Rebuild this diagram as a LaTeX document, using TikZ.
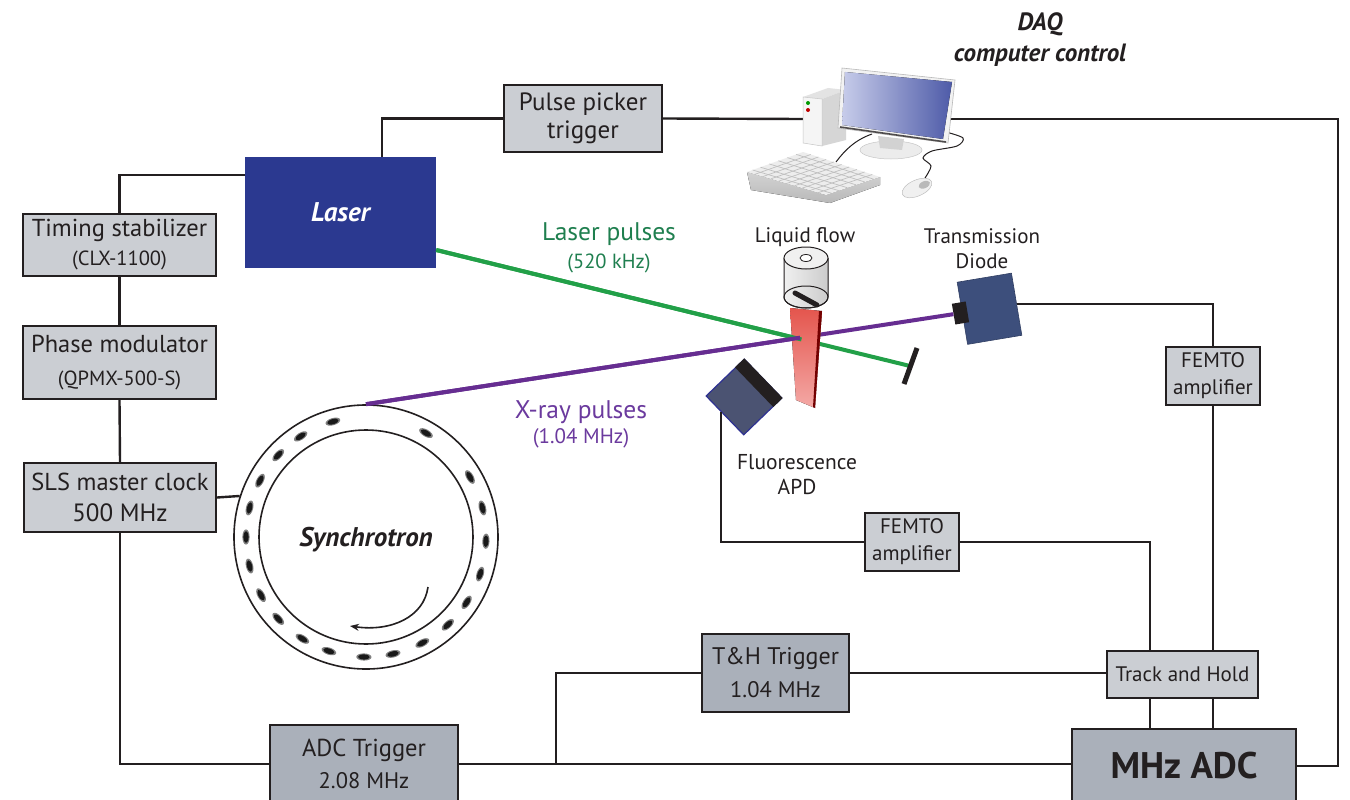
\documentclass[tikz,border=0pt]{standalone}
\usepackage{fontspec}
\setmainfont{PT Sans}
\usetikzlibrary{arrows.meta,calc}

\definecolor{ink}{HTML}{231F20}
\definecolor{boxlight}{HTML}{CBCED3}
\definecolor{boxdark}{HTML}{AAB0BA}
\definecolor{laserblue}{HTML}{2B3990}
\definecolor{beamgreen}{HTML}{22A048}
\definecolor{beampurple}{HTML}{662D91}
\definecolor{greentext}{HTML}{1F7F4F}
\definecolor{purpletext}{HTML}{6B3A9E}
\definecolor{diodeblue}{HTML}{3D4F7C}
\definecolor{apdgray}{HTML}{4B5372}
\definecolor{apdedge}{HTML}{2E3192}
\definecolor{jettop}{HTML}{E4554D}
\definecolor{jetbot}{HTML}{F4A9A6}
\definecolor{screenlight}{HTML}{C7CCEA}
\definecolor{screendark}{HTML}{4E5BA8}

\tikzset{
  unit/.style={draw=ink, line width=2, fill=boxlight, inner sep=0, align=center,
    text=ink, font=\fontsize{24.5}{29}\selectfont},
  unitdark/.style={unit, fill=boxdark},
  wire/.style={draw=ink, line width=2.4},
  beam/.style={line width=4},
  label/.style={text=ink, align=center, inner sep=0, font=\fontsize{21}{25}\selectfont},
  dotcore/.style={fill=black!90},
  dothalo/.style={fill=black!50},
}

\begin{document}
\begin{tikzpicture}[x=1pt,y=-1pt]
\fill[white] (0,0) rectangle (1350,800);
\useasboundingbox (0,0) rectangle (1350,800);

% ---------- timing chain boxes ----------
\node[unit, minimum width=193, minimum height=62] (ts) at (119.5,245)
  {Timing stabilizer\\{\fontsize{20.5}{22}\selectfont (CLX-1100)}};
\node[unit, minimum width=193, minimum height=73] (pm) at (119.5,362.5)
  {Phase modulator\\[4pt]{\fontsize{20.5}{24}\selectfont (QPMX-500-S)}};
\node[unit, minimum width=192, minimum height=69] (clk) at (120,497.5)
  {SLS master clock\\[2pt]{\fontsize{25}{28}\selectfont 500 MHz}};
\node[unit, minimum width=158, minimum height=67, font=\fontsize{25}{28}\selectfont] (pp) at (583,118.5)
  {Pulse picker\\trigger};

% ---------- laser ----------
\node[fill=laserblue, minimum width=191, minimum height=111, inner sep=0, text=white,
  font=\bfseries\itshape\fontsize{27}{30}\selectfont] (laser) at (340.5,212.5) {Laser};

% ---------- detection electronics ----------
\node[unit, minimum width=94, minimum height=58, font=\fontsize{21}{27}\selectfont] (femto1) at (1213,376)
  {FEMTO\\amplifier};
\node[unit, minimum width=94, minimum height=58, font=\fontsize{21}{27}\selectfont] (femto2) at (912,542)
  {FEMTO\\amplifier};
\node[unit, minimum width=151, minimum height=47, font=\fontsize{21}{27}\selectfont] (th) at (1182.5,674.5)
  {Track and Hold};
\node[unitdark, minimum width=147, minimum height=78, font=\fontsize{24}{28}\selectfont] (thtrig) at (775.5,673)
  {T\&H Trigger\\[5pt]{\fontsize{22.5}{24}\selectfont 1.04 MHz}};
\node[unitdark, minimum width=188, minimum height=78, font=\fontsize{24.5}{28}\selectfont] (adct) at (364,764)
  {ADC Trigger\\[4pt]{\fontsize{22.5}{24}\selectfont 2.08 MHz}};
\node[unitdark, minimum width=224, minimum height=74, font=\bfseries\fontsize{37}{40}\selectfont] (adc) at (1184,766)
  {MHz ADC};

% ---------- synchrotron ring ----------
\node[circle, draw=ink, line width=1.6, minimum size=264, inner sep=0] (sync) at (366,537) {};
\node[circle, draw=ink, line width=1.6, minimum size=214, inner sep=0] (syncin) at (366,537) {};
\node[text=ink, font=\bfseries\itshape\fontsize{27}{30}\selectfont] (synclabel) at (366,540) {Synchrotron};
\begin{scope}[shift={(366,537)}, y=1pt]
  \foreach \a in {106,123,137,152,166,180,194,209,223,238,252,269,283,298,313,327,342,358,14,30,60}{
    \fill[dothalo, shift={(\a:120)}, rotate=\a] (0,0) ellipse (3.6 and 7.6);
    \fill[dotcore, shift={(\a:120)}, rotate=\a] (0,0) ellipse (2.6 and 5.8);
  }
  \draw[ink, line width=1.6, -{Stealth[length=9pt,width=7pt]}]
    (62,-50) .. controls (58,-80) and (25,-95) .. (-16,-89);
\end{scope}

% ---------- connecting wires ----------
\coordinate (pcL) at (803,119);
\coordinate (pcR) at (947,119);
\coordinate (rcorner) at (1338,119);
\coordinate (junc) at (556,763);
\coordinate (tap) at (1150,540);

\draw[wire] ([yshift=37.5pt]laser.west) -| (ts.north);
\draw[wire] (ts.south) -- (pm.north);
\draw[wire] (pm.south) -- (clk.north);
\draw[wire] (clk.east) -- (sync.162);
\draw[wire] (clk.south) |- (adct.west);
\draw[wire] (adct.east) -- (adct.east -| adc.west);
\draw[wire] (junc) |- (thtrig.west);
\draw[wire] (thtrig.east) -- (thtrig.east -| th.west);
\draw[wire] (pp.west) -| ([xshift=41.5pt]laser.north);
\draw[wire] (pp.east) -- (pcL);
\draw[wire, line width=2.8] (pcR) -- (rcorner) |- (adc.east);
\draw[wire] (femto2.east) -| (tap |- th.north);
\draw[wire] (tap |- th.south) -- (tap |- adc.north);
\draw[wire] (femto1.south) -- (femto1.south |- th.north);
\draw[wire] (femto1.south |- th.south) -- (femto1.south |- adc.north);

% ---------- detectors ----------
\node[fill=diodeblue, draw=diodeblue!80!black, line width=0.6, minimum width=55, minimum height=63,
  inner sep=0, rotate=9.5] (diode) at (989.5,308.75) {};
\node[fill=ink, minimum width=14, minimum height=21, inner sep=0, rotate=9.5] (dsens) at (960.5,313) {};
\draw[wire, line width=2] (diode.east) -| (femto1.north);

\node[draw=apdedge, fill=apdgray, line width=1.2, minimum width=53, minimum height=54,
  inner sep=0, rotate=44] (apd) at (744,397) {};
\fill[ink] (apd.north east) -- (apd.south east) -- ($(apd.south east)!13pt!(apd.south west)$)
  -- ($(apd.north east)!13pt!(apd.north west)$) -- cycle;
\draw[wire, line width=2] ($(apd.south west)!0.6!(apd.north west)$) |- (femto2.west);

% ---------- beams ----------
\coordinate (g0) at ([yshift=-37.5pt]laser.east);
\coordinate (mir) at (910,366);
\draw[beam, beamgreen] (g0) -- (mir);
\draw[beam, beampurple] (sync.north) -- (dsens.west);

% liquid jet
\fill[top color=jettop, bottom color=jetbot] (790,308) -- (822,311) -- (815,408) -- (796,400) -- cycle;
\fill[red!45!black] (819,311) -- (822,311) -- (815,408) -- (813,407) -- cycle;

% beam segments in front of the jet
\draw[beam, beamgreen] (g0) -- ($(g0)!0.771!(mir)$);
\draw[beam, beampurple] (sync.north) -- ($(sync.north)!0.739!(dsens.west)$);

% beam dump
\draw[ink, line width=5] (917,348) -- (904,384);

% nozzle
\fill[left color=gray!12, right color=gray!40] (784,258) -- (784,297)
  arc[start angle=180, end angle=0, x radius=22, y radius=11] -- (828,258) -- cycle;
\draw[ink, line width=1] (784,258) -- (784,297)
  arc[start angle=180, end angle=0, x radius=22, y radius=11] -- (828,258);
\draw[ink, line width=1] (806,297) ellipse (22 and 11);
\filldraw[fill=gray!12, draw=ink, line width=1] (806,258) ellipse (22 and 11);
\filldraw[fill=white, draw=ink, line width=0.8] (806,258) ellipse (6 and 3.5);
\draw[ink, line width=5, line cap=round] (795,293) -- (817,305);

% ---------- computer ----------
% keyboard
\coordinate (k0) at (747,172);
\coordinate (k1) at (803,152);
\coordinate (k2) at (880,177);
\coordinate (k3) at (826,195);
\fill[top color=gray!35, bottom color=gray!55] (k0) -- (k3) -- (k2) -- (880,185) -- (830,203) -- (751,190) -- cycle;
\fill[gray!14] (k0) -- (k1) -- (k2) -- (k3) -- cycle;
\foreach \t in {0.12,0.28,0.44,0.60,0.76,0.90}
  \draw[gray!50, line width=0.7] ($(k1)!\t!(k0)$) -- ($(k2)!\t!(k3)$);
\foreach \s in {0.1,0.2,0.3,0.4,0.5,0.6,0.7,0.8,0.9}
  \draw[gray!50, line width=0.7] ($(k0)!\s!(k3)$) -- ($(k1)!\s!(k2)$);
% tower
\fill[gray!22] (803,97) -- (822,99) -- (846,90) -- (828,88) -- cycle;
\fill[gray!32] (822,99) -- (846,90) -- (846,140) -- (822,146) -- cycle;
\filldraw[fill=gray!8, draw=gray!45, line width=0.5] (803,97) -- (822,99) -- (822,146) -- (803,143) -- cycle;
\fill[green!60!black] (808,103) circle (2);
\fill[red!75!black] (808,110) circle (2);
% cables
\draw[ink, line width=1] (836,162) .. controls (845,150) and (855,140) .. (872,134);
\draw[ink, line width=1] plot[smooth] coordinates {(925,178) (931,166) (923,158) (932,151) (957,146) (963,138) (946,132)};
% stand
\filldraw[fill=gray!15, draw=gray!45, line width=0.5] (891,150) ellipse (31 and 9);
\fill[gray!35] (878,136) -- (904,139) -- (902,150) -- (880,148) -- cycle;
% monitor
\filldraw[fill=gray!10, draw=gray!55, line width=0.6] (842,68) -- (955,80) -- (948,143) -- (838,128) -- cycle;
\fill[left color=screenlight, right color=screendark] (845,72) -- (952,82) -- (943,139) -- (842,125) -- cycle;
\draw[ink!80, line width=1.6] (840,127) -- (946,142);
% mouse
\filldraw[fill=gray!12, draw=gray!50, line width=0.5, rotate around={24:(917,188)}] (917,188) ellipse (16 and 8);
\fill[gray!55, rotate around={24:(917,188)}] (925,188) ellipse (6 and 3.5);

% ---------- labels ----------
\node[text=ink, align=center, font=\bfseries\itshape\fontsize{25}{31}\selectfont] (daq) at (1040,40)
  {DAQ\\computer control};
\node[label] (lflow) at (805,237) {Liquid flow};
\node[label] (ltrans) at (982,248.5) {Transmission\\Diode};
\node[label, font=\fontsize{21.5}{25}\selectfont] (lapd) at (797,474.5) {Fluorescence\\APD};
\node[text=greentext, align=center, font=\fontsize{25.5}{28}\selectfont] (lpulse) at (609,248)
  {Laser pulses\\{\fontsize{20.5}{22}\selectfont (520 kHz)}};
\node[text=purpletext, align=center, font=\fontsize{25.5}{25}\selectfont] (xpulse) at (581,424)
  {X-ray pulses\\{\fontsize{21}{22}\selectfont (1.04 MHz)}};
\end{tikzpicture}
\end{document}
